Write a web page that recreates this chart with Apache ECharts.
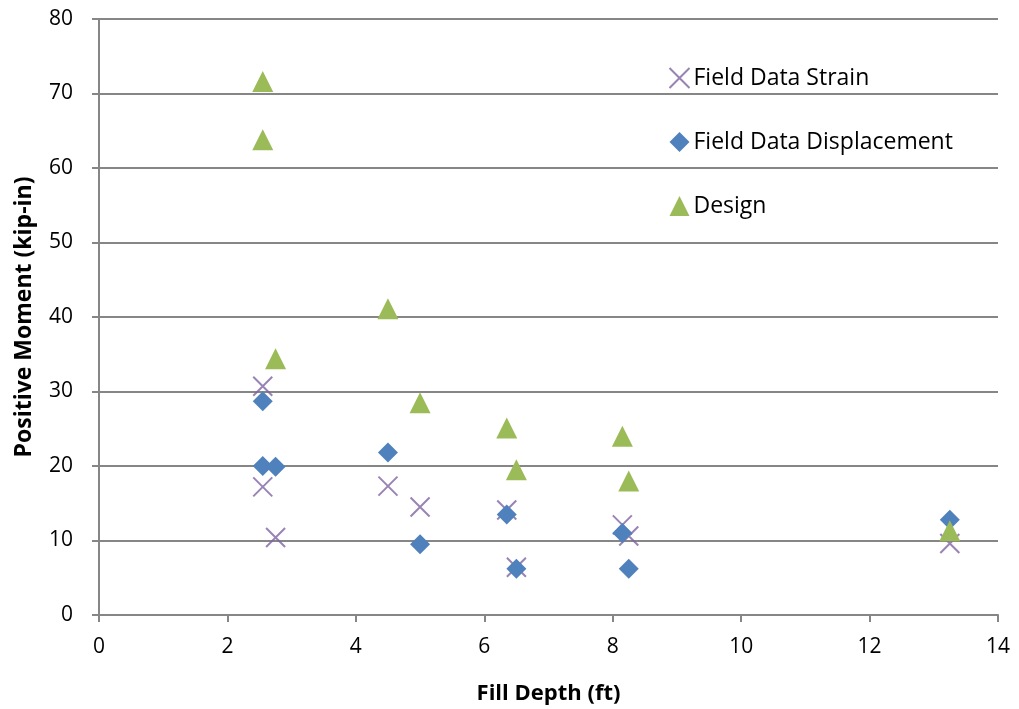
<!DOCTYPE html>
<html>
<head>
<meta charset="utf-8">
<script src="https://cdn.jsdelivr.net/npm/echarts@6/dist/echarts.min.js"></script>
<style>
  html, body { margin: 0; padding: 0; background: #fff; }
  #chart { width: 1019px; height: 709px; }
</style>
</head>
<body>
<div id="chart"></div>
<script>
// Fill depth (ft) for each measured culvert
const fillDepth = [2.55, 2.55, 2.75, 4.5, 5.0, 6.35, 6.5, 8.15, 8.25, 13.25];
// Positive moment (kip-in), one value per fill depth above
const strainMoment = [30.7, 17.2, 10.4, 17.3, 14.5, 14.1, 6.4, 12.1, 10.6, 9.6];
const displacementMoment = [28.7, 20.0, 19.9, 21.8, 9.5, 13.5, 6.2, 11.0, 6.2, 12.8];
const designMoment = [71.6, 63.8, 34.4, 41.1, 28.5, 25.1, 19.5, 24.0, 18.0, 11.3];
const xTicks = [0, 2, 4, 6, 8, 10, 12, 14];
const yTicks = [0, 10, 20, 30, 40, 50, 60, 70, 80];

const pairs = (ys) => fillDepth.map((x, i) => [x, ys[i]]);

const FONT = '"Open Sans", Lato, sans-serif';
const AXIS_GREY = '#868686';
const CROSS = 'path://M0,0L10,10M10,0L0,10';

const chart = echarts.init(document.getElementById('chart'), null, { renderer: 'canvas' });
chart.setOption({
  animation: false,
  backgroundColor: '#fff',
  grid: { left: 99, right: 21, top: 19, bottom: 94, containLabel: false, outerBoundsMode: 'none' },
  legend: {
    orient: 'vertical',
    left: 662,
    top: 58,
    itemGap: 34,
    itemWidth: 20,
    itemHeight: 20,
    textStyle: { fontFamily: FONT, fontSize: 23, color: '#000', padding: [0, 0, 0, -1], lineHeight: 30 },
    data: [
      { name: 'Field Data Strain', icon: CROSS, itemStyle: { color: 'none', borderColor: '#8064A2', borderWidth: 2 } },
      { name: 'Field Data Displacement', icon: 'diamond' },
      { name: 'Design', icon: 'triangle' }
    ]
  },
  xAxis: {
    type: 'value',
    min: xTicks[0],
    max: xTicks[xTicks.length - 1],
    interval: 2,
    name: 'Fill Depth (ft)',
    nameLocation: 'middle',
    nameGap: 68,
    nameTextStyle: { fontFamily: FONT, fontSize: 22, fontWeight: 'bold', color: '#000' },
    axisLine: { show: true, onZero: false, lineStyle: { color: AXIS_GREY, width: 2 } },
    axisTick: { show: true, inside: false, length: 7, lineStyle: { color: AXIS_GREY, width: 2 } },
    axisLabel: { fontFamily: FONT, fontSize: 21, color: '#000', margin: 22 },
    splitLine: { show: false }
  },
  yAxis: {
    type: 'value',
    min: yTicks[0],
    max: yTicks[yTicks.length - 1],
    interval: 10,
    name: 'Positive Moment (kip-in)',
    nameLocation: 'middle',
    nameGap: 63,
    nameTextStyle: { fontFamily: FONT, fontSize: 23, fontWeight: 'bold', color: '#000' },
    axisLine: { show: true, lineStyle: { color: AXIS_GREY, width: 2 } },
    axisTick: { show: true, inside: false, length: 7, lineStyle: { color: AXIS_GREY, width: 2 } },
    axisLabel: { fontFamily: FONT, fontSize: 21, color: '#000', margin: 26 },
    splitLine: { show: true, lineStyle: { color: AXIS_GREY, width: 2 } }
  },
  series: [
    {
      name: 'Field Data Strain',
      type: 'scatter',
      symbol: CROSS,
      symbolSize: 19,
      data: pairs(strainMoment),
      itemStyle: { color: 'none', borderColor: '#8064A2', borderWidth: 2 },
      z: 3
    },
    {
      name: 'Field Data Displacement',
      type: 'scatter',
      symbol: 'diamond',
      symbolSize: [20, 20],
      data: pairs(displacementMoment),
      itemStyle: { color: '#4F81BD', opacity: 1 },
      z: 4
    },
    {
      name: 'Design',
      type: 'scatter',
      symbol: 'triangle',
      symbolSize: [21, 21],
      data: pairs(designMoment),
      itemStyle: { color: '#9BBB59', opacity: 1 },
      z: 5
    }
  ]
});
</script>
</body>
</html>
